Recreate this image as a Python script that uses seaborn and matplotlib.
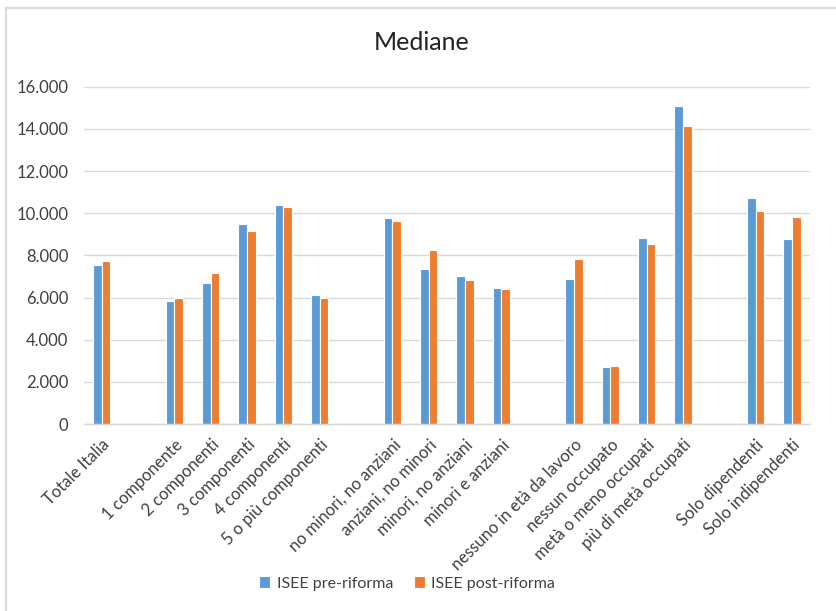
import pandas as pd
import numpy as np
import seaborn as sns
import matplotlib.pyplot as plt
from matplotlib.ticker import FuncFormatter
from matplotlib.lines import Line2D

# Data
categories = ["Totale Italia",
              "1 componente", "2 componenti", "3 componenti", "4 componenti", "5 o più componenti",
              "no minori, no anziani", "anziani, no minori", "minori, no anziani", "minori e anziani",
              "nessuno in età da lavoro", "nessun occupato", "metà o meno occupati", "più di metà occupati",
              "Solo dipendenti", "Solo indipendenti"]
pre_riforma = [7540, 5860, 6690, 9510, 10380, 6120, 9780, 7370, 7040, 6430,
               6860, 2690, 8810, 15100, 10700, 8760]
post_riforma = [7720, 5960, 7150, 9140, 10300, 5970, 9650, 8270, 6810, 6390,
                7810, 2770, 8560, 14120, 10100, 9830]
series = ["ISEE pre-riforma", "ISEE post-riforma"]

# blank slots between groups, like the original chart
order = (categories[:1] + [" "] + categories[1:6] + ["  "] + categories[6:10]
         + ["   "] + categories[10:14] + ["    "] + categories[14:])

df = pd.DataFrame({
    "categoria": categories * 2,
    "valore": pre_riforma + post_riforma,
    "serie": [series[0]] * len(categories) + [series[1]] * len(categories),
})

sns.set_style("white")
plt.rcParams["font.family"] = ["Lato", "DejaVu Sans"]

fig = plt.figure(figsize=(8.36, 6.11), dpi=100)
ax = fig.add_axes([0.100, 0.306, 0.869, 0.552])

sns.barplot(data=df, x="categoria", y="valore", hue="serie", order=order,
            hue_order=series, palette=["#5B9BD5", "#ED7D31"], width=0.48,
            saturation=1, edgecolor="white", linewidth=0.8, ax=ax)

ax.set_ylim(0, 16000)
ax.set_yticks(range(0, 16001, 2000))
ax.yaxis.set_major_formatter(FuncFormatter(lambda v, p: f"{int(v):,}".replace(",", ".")))
ax.grid(axis="y", color="#D9D9D9", linewidth=1)
ax.set_axisbelow(True)
for s in ["top", "right", "left"]:
    ax.spines[s].set_visible(False)
ax.spines["bottom"].set_color("#D9D9D9")
ax.spines["bottom"].set_linewidth(1)
ax.tick_params(length=0, labelsize=12, colors="#404040")
ax.tick_params(axis="y", pad=11)
ax.tick_params(axis="x", pad=9)
ax.set_xlabel("")
ax.set_ylabel("")
ax.set_xlim(-0.5, len(order) - 0.5)
plt.setp(ax.get_xticklabels(), rotation=45, ha="right", rotation_mode="anchor")

fig.text(0.504, 0.93, "Mediane", ha="center", va="center", fontsize=18, color="#222222")

ax.legend(loc="center", bbox_to_anchor=(0.487, 0.045), bbox_transform=fig.transFigure,
          ncol=2, frameon=False, fontsize=11.5, handlelength=0.7, handleheight=0.7,
          handletextpad=0.4, columnspacing=1.3, labelcolor="#404040")

# chart area border (left and top)
fig.add_artist(Line2D([6 / 836, 6 / 836], [0, 1 - 8 / 611], transform=fig.transFigure,
                      color="#D9D9D9", linewidth=1.5))
fig.add_artist(Line2D([6 / 836, 1], [1 - 8 / 611, 1 - 8 / 611], transform=fig.transFigure,
                      color="#D9D9D9", linewidth=1.5))

plt.savefig("out.png", dpi=100)
plt.close()
